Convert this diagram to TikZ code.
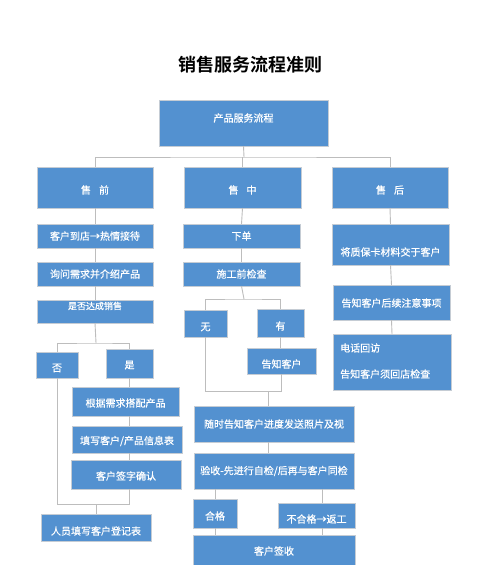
\documentclass[tikz,border=0pt]{standalone}
\usepackage{fontspec}
\setmainfont{Noto Sans CJK SC}
\newfontfamily\boxfont[FakeBold=0.6]{Noto Sans CJK SC}
\newfontfamily\cjkbold{Noto Sans CJK SC Bold}
\definecolor{boxblue}{HTML}{5391D0}
\definecolor{boxedge}{HTML}{C5CCD4}
\definecolor{linegray}{HTML}{BDBDBD}
\tikzset{
  box/.style={draw=boxedge, line width=0.6pt, fill=boxblue, rectangle, inner sep=0pt, outer sep=0pt},
  lbl/.style={text=white, font=\boxfont\fontsize{10}{12}\selectfont, inner sep=0pt},
  conn/.style={draw=linegray, line width=0.9pt},
  ttl/.style={font=\cjkbold\fontsize{18}{20}\selectfont, text=black, inner sep=0pt}
}
\newcommand{\bx}[7]{%
  \node[box, minimum width={(#4-#2)*1pt}, minimum height={(#5-#3)*1pt}] (#1) at ({(#2+#4)/2},{(#3+#5)/2}) {};
  \node[lbl] (#1-t) at ({(#2+#4)/2},#6) {#7};}
\begin{document}
\begin{tikzpicture}[x=1pt,y=-1pt]
\useasboundingbox[fill=white] (0,0) rectangle (500,565);
\node[ttl] (title) at (250,65) {销售服务流程准则};
% boxes
\bx{top}{159}{100}{328}{146}{118}{产品服务流程}
\bx{pre}{37}{167}{153}{208}{190}{售\hspace{8pt}前}
\bx{mid}{184}{167}{301}{208}{190}{售\hspace{8pt}中}
\bx{post}{332}{167}{448}{208}{190}{售\hspace{8pt}后}
% left column
\bx{a1}{37}{224}{153}{248}{236}{客户到店→热情接待}
\bx{a2}{37}{262}{153}{286}{274}{询问需求并介绍产品}
\bx{a3}{37}{300}{153}{323}{306}{\fontsize{9}{11}\selectfont 是否达成销售}
\bx{no}{36}{352}{78}{378}{368}{否}
\bx{yes}{106}{349}{153}{378}{365}{是}
\bx{b1}{72}{387}{179}{416}{403}{根据需求搭配产品}
\bx{b2}{72}{426}{182}{453}{441}{填写客户/产品信息表}
\bx{b3}{71}{460}{181}{489}{476}{客户签字确认}
\bx{reg}{41}{514}{151}{541}{531}{人员填写客户登记表}
% middle column
\bx{xd}{183}{224}{300}{248}{236}{下单}
\bx{chk}{183}{262}{300}{286}{274}{施工前检查}
\bx{wu}{184}{310}{227}{337}{327}{无}
\bx{you}{257}{309}{304}{337}{326}{有}
\bx{gz}{247}{348}{316}{374}{364}{告知客户}
\bx{sui}{194}{406}{354}{442}{424}{随时告知客户进度发送照片及视}
\bx{ys}{194}{453}{354}{489}{471}{验收-先进行自检/后再与客户同检}
\bx{hg}{193}{499}{237}{528}{516}{合格}
\bx{bhg}{278}{503}{355}{528}{519}{不合格→返工}
\bx{qs}{193}{535}{355}{566}{551}{客户签收}
% right column
\bx{zb}{332}{224}{449}{265}{252}{将质保卡材料交于客户}
\bx{zy}{333}{285}{450}{320}{303}{告知客户后续注意事项}
\bx{dh}{333}{334}{451}{390}{350}{}
\node[lbl, anchor=west] (dh-t2) at (340,374) {告知客户须回店检查};
\node[lbl, anchor=west] (dh-t1) at (340,348) {电话回访};
% bus coordinates
\coordinate (bus1) at (244,157);
\coordinate (lb1) at (96,343);
\coordinate (lb2) at (96,504);
\coordinate (mb1) at (244,299);
\coordinate (mb2) at (268,391);
\coordinate (rx) at (322,0);
% top level
\draw[conn] (top.south) -- (bus1);
\draw[conn] (pre.north) |- (bus1) -| (post.north);
\draw[conn] (mid.north) -- (mid.north |- bus1);
% left
\draw[conn] (pre.south) -- (a1.north);
\draw[conn] (a1.south) -- (a2.north);
\draw[conn] (a2.south) -- (a3.north);
\draw[conn] (a3.south) -- (lb1);
\draw[conn] (no.north) |- (lb1) -| (yes.north);
\draw[conn] (yes.south) -- (yes.south |- b1.north);
\draw[conn] (b1.south -| yes.south) -- (b2.north -| yes.south);
\draw[conn] (b2.south -| yes.south) -- (b3.north -| yes.south);
\draw[conn] (no.south) |- (lb2);
\draw[conn] (b3.south -| yes.south) |- (lb2);
\draw[conn] (lb2) -- (reg.north);
% middle
\draw[conn] (mid.south) -- (xd.north);
\draw[conn] (xd.south) -- (chk.north);
\draw[conn] (chk.south) -- (mb1);
\draw[conn] (wu.north) |- (mb1) -| (you.north);
\draw[conn] (you.south) -- (you.south |- gz.north);
\draw[conn] (wu.south) |- (mb2);
\draw[conn] (gz.south) |- (mb2);
\draw[conn] (mb2) -- (mb2 |- sui.north);
\draw[conn] (sui.south -| mb2) -- (ys.north -| mb2);
\draw[conn] (ys.south -| hg.north) -- (hg.north);
\draw[conn] (ys.south -| rx) -- (bhg.north -| rx);
\draw[conn] (hg.south) -- (qs.north -| hg.south);
\draw[conn] (bhg.south -| rx) -- (qs.north -| rx);
% right
\draw[conn] (post.south) -- (zb.north);
\draw[conn] (zb.south) -- (zy.north);
\draw[conn] (zy.south) -- (dh.north);
\end{tikzpicture}
\end{document}
